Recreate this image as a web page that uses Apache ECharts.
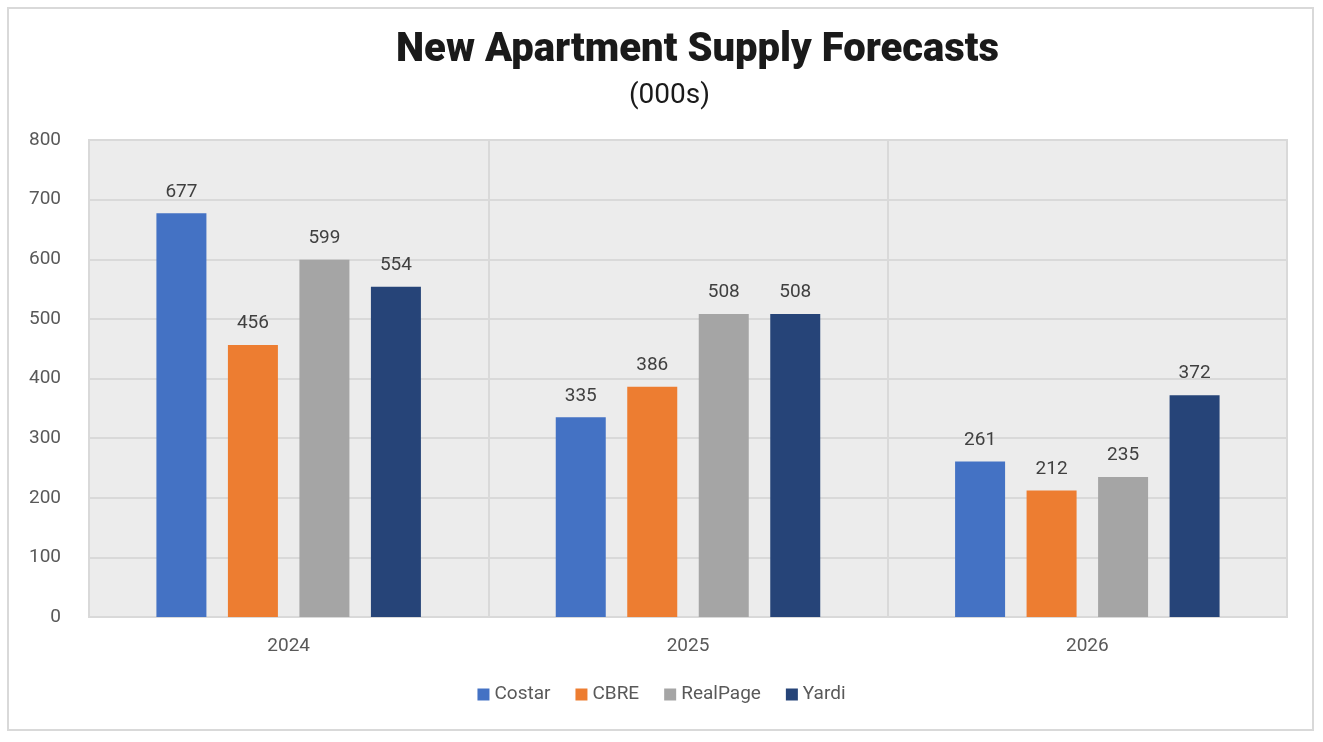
<!DOCTYPE html>
<html><head><meta charset="utf-8">
<script src="https://cdn.jsdelivr.net/npm/echarts@6/dist/echarts.min.js"></script>
<style>html,body{margin:0;padding:0;background:#fff}#c{width:1323px;height:742px}</style>
</head><body><div id="c"></div>
<script>
const categories = ['2024', '2025', '2026'];
const costar = [677, 335, 261];
const cbre = [456, 386, 212];
const realpage = [599, 508, 235];
const yardi = [554, 508, 372];
const seriesNames = ['Costar', 'CBRE', 'RealPage', 'Yardi'];
const colors = ['#4472c4', '#ed7d31', '#a5a5a5', '#264478'];
const yTicks = {min: 0, max: 800, interval: 100};

const FONT = '"Liberation Sans Narrow", "Roboto", "DejaVu Sans Condensed", sans-serif';
const chart = echarts.init(document.getElementById('c'));
const data = [costar, cbre, realpage, yardi];
chart.setOption({
  animation: false,
  textStyle: {fontFamily: FONT},
  graphic: [{type: 'rect', shape: {x: 8, y: 8, width: 1305, height: 722}, style: {fill: 'none', stroke: '#d9d9d9', lineWidth: 2}, z: -1}],
  title: [
    {text: 'New Apartment Supply Forecasts', left: 391, top: 26, textStyle: {fontFamily: FONT, fontSize: 40, fontWeight: 900, color: '#1a1a1a'}},
    {text: '(000s)', left: 624, top: 77, textStyle: {fontFamily: FONT, fontSize: 28, fontWeight: 'normal', color: '#1a1a1a'}}
  ],
  legend: {bottom: 33, left: 'center', itemWidth: 12, itemHeight: 12, itemGap: 25, icon: 'rect',
    textStyle: {fontFamily: FONT, fontSize: 19, color: '#595959'}, data: seriesNames},
  grid: {left: 89, right: 36, top: 140, bottom: 125, show: true, backgroundColor: '#ececec', borderColor: '#d9d9d9', borderWidth: 2},
  xAxis: {type: 'category', data: categories,
    axisLine: {lineStyle: {color: '#d9d9d9', width: 2}}, axisTick: {show: false},
    axisLabel: {fontFamily: FONT, fontSize: 19, color: '#595959', margin: 20},
    splitLine: {show: true, lineStyle: {color: '#d9d9d9', width: 2}}},
  yAxis: {type: 'value', min: yTicks.min, max: yTicks.max, interval: yTicks.interval,
    axisLine: {show: false}, axisTick: {show: false},
    axisLabel: {fontFamily: FONT, fontSize: 19, color: '#595959', margin: 28},
    splitLine: {lineStyle: {color: '#d9d9d9', width: 2}}},
  series: seriesNames.map((n, i) => ({
    name: n, type: 'bar', data: data[i], barWidth: 50, barGap: '43%',
    itemStyle: {color: colors[i]},
    label: {show: true, position: 'top', distance: 12, fontFamily: FONT, fontSize: 19, color: '#404040'}
  }))
});
</script></body></html>
